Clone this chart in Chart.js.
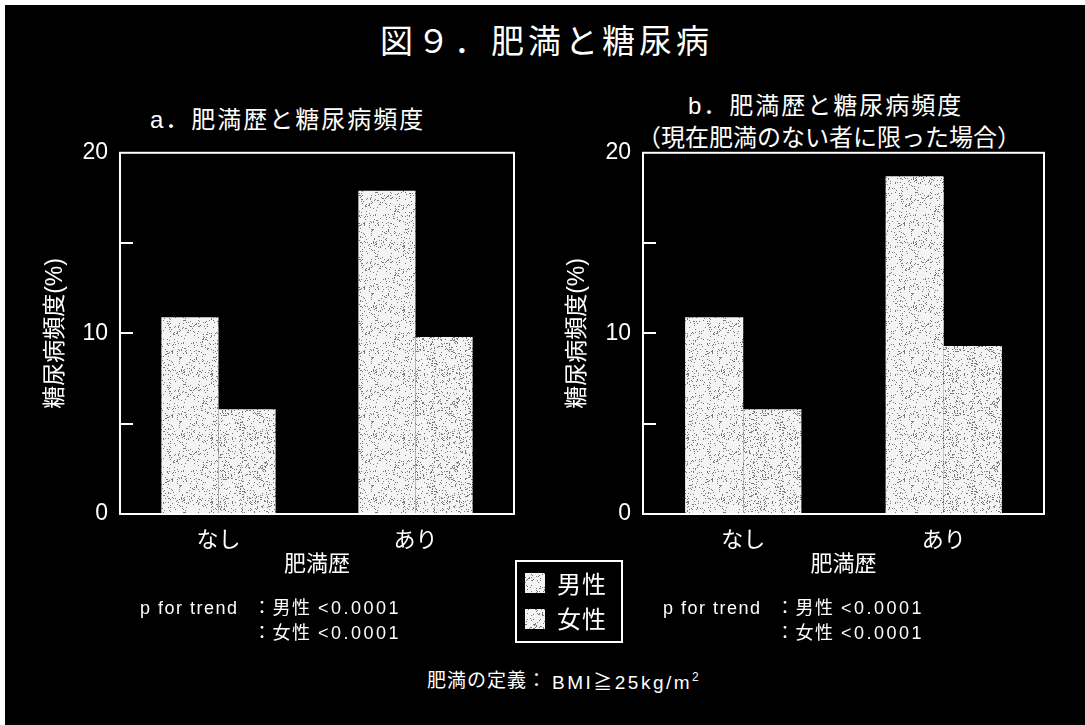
<!DOCTYPE html>
<html lang="ja">
<head>
<meta charset="utf-8">
<title>図9．肥満と糖尿病</title>
<script src="https://cdn.jsdelivr.net/npm/chart.js@4.4.0/dist/chart.umd.min.js"></script>
<style>
  html, body { margin: 0; padding: 0; background: #000; }
  #page { position: relative; width: 1085px; height: 725px; background: #000; overflow: hidden; }
  .edge { position: absolute; background: #fff; }
  canvas.chart { position: absolute; }
  .t { position: absolute; white-space: nowrap; color: #fff; line-height: 1;
       font-family: 'Liberation Sans', 'Noto Sans CJK JP', sans-serif; }
  .num { letter-spacing: 2.5px; }
  #legend { position: absolute; left: 515px; top: 560px; width: 104px; height: 79px;
            border: 2px solid #fff; }
  #legend canvas { position: absolute; left: 8px; width: 20px; height: 20px; }
</style>
</head>
<body>
<div id="page">
  <div class="edge" style="left:0;top:0;width:1085px;height:5px"></div>
  <div class="edge" style="left:0;top:0;width:5px;height:725px"></div>

  <div class="t" style="left:380px;top:25px;font-size:33px;letter-spacing:4px">図９．肥満と糖尿病</div>

  <div class="t" style="left:150px;top:108px;font-size:24px;letter-spacing:2px">a．肥満歴と糖尿病頻度</div>
  <div class="t" style="left:688px;top:94px;font-size:24px;letter-spacing:2px">b．肥満歴と糖尿病頻度</div>
  <div class="t" style="left:637px;top:126px;font-size:24px">（現在肥満のない者に限った場合）</div>

  <canvas id="chartA" class="chart" width="540" height="473" style="left:0;top:127px"></canvas>
  <canvas id="chartB" class="chart" width="545" height="473" style="left:540px;top:127px"></canvas>

  <div class="t" style="left:140px;top:599px;font-size:18px;letter-spacing:1.5px">p for trend</div>
  <div class="t" style="left:253px;top:599px;font-size:18px;letter-spacing:1.5px">：男性 <span class="num">&lt;0.0001</span></div>
  <div class="t" style="left:253px;top:624px;font-size:18px;letter-spacing:1.5px">：女性 <span class="num">&lt;0.0001</span></div>

  <div class="t" style="left:663px;top:599px;font-size:18px;letter-spacing:1.5px">p for trend</div>
  <div class="t" style="left:776px;top:599px;font-size:18px;letter-spacing:1.5px">：男性 <span class="num">&lt;0.0001</span></div>
  <div class="t" style="left:776px;top:624px;font-size:18px;letter-spacing:1.5px">：女性 <span class="num">&lt;0.0001</span></div>

  <div id="legend">
    <canvas id="swMale" width="20" height="20" style="top:11px"></canvas>
    <div class="t" id="lgMale" style="left:40px;top:11px;font-size:24px;letter-spacing:1px"></div>
    <canvas id="swFemale" width="20" height="20" style="top:47px"></canvas>
    <div class="t" id="lgFemale" style="left:40px;top:46px;font-size:24px;letter-spacing:1px"></div>
  </div>

  <div class="t" style="left:427px;top:671px;font-size:19px;letter-spacing:1px">肥満の定義：</div>
  <div class="t" style="left:552px;top:671px;font-size:19px;letter-spacing:2.5px">BMI≧25kg/m<sup style="font-size:12px;vertical-align:8px;letter-spacing:0">2</sup></div>
</div>

<script>
// categories and series
const categories = ['なし', 'あり'];
const seriesNames = ['男性', '女性'];
const maleA = [10.9, 17.9];
const femaleA = [5.8, 9.8];
const maleB = [10.9, 18.7];
const femaleB = [5.8, 9.3];
// axis ticks: labelled values and the short inner marks
const labelledTicks = [0, 10, 20];
const innerTicks = [5, 10, 15];
const yTitle = '糖尿病頻度(%)';
const xTitle = '肥満歴';

const FONT = "'Liberation Sans', 'Noto Sans CJK JP', sans-serif";

// halftone-like stipple fill for the bars (deterministic hash, no Math.random)
function stipple(density, seed) {
  const size = 64;
  const c = document.createElement('canvas');
  c.width = c.height = size;
  const g = c.getContext('2d');
  g.fillStyle = '#f4f4f4';
  g.fillRect(0, 0, size, size);
  g.fillStyle = '#7a7a7a';
  for (let y = 0; y < size; y++) {
    for (let x = 0; x < size; x++) {
      let h = Math.imul(x + 1, 374761393) ^ Math.imul(y + 7, 668265263) ^ Math.imul(seed, 2246822519);
      h = Math.imul(h ^ (h >>> 13), 1274126177);
      h ^= h >>> 16;
      if (((h >>> 0) % 1000) / 1000 < density) g.fillRect(x, y, 1, 1);
    }
  }
  return g.createPattern(c, 'repeat');
}

const malePattern = stipple(0.10, 3);
const femalePattern = stipple(0.14, 11);

// white frame round the plot area plus short inward tick marks on the left
const framePlugin = {
  id: 'frame',
  afterDatasetsDraw(chart) {
    const { ctx, chartArea: a, scales: { y } } = chart;
    ctx.save();
    ctx.strokeStyle = '#fff';
    ctx.lineWidth = 2;
    ctx.strokeRect(a.left, a.top, a.right - a.left, a.bottom - a.top);
    ctx.beginPath();
    for (const v of innerTicks) {
      const py = Math.round(y.getPixelForValue(v));
      ctx.moveTo(a.left, py);
      ctx.lineTo(a.left + 13, py);
    }
    ctx.stroke();
    ctx.restore();
  }
};

function makeChart(id, male, female, yAxisWidth, yTitlePad, padRight) {
  return new Chart(document.getElementById(id), {
    type: 'bar',
    data: {
      labels: categories,
      datasets: [
        { label: seriesNames[0], data: male, backgroundColor: malePattern, borderWidth: 0 },
        { label: seriesNames[1], data: female, backgroundColor: femalePattern, borderWidth: 0 }
      ]
    },
    options: {
      responsive: false,
      animation: false,
      devicePixelRatio: 1,
      layout: { padding: { left: 0, top: 0, right: padRight, bottom: 16 } },
      datasets: { bar: { categoryPercentage: 0.58, barPercentage: 1.0 } },
      plugins: { legend: { display: false }, tooltip: { enabled: false } },
      scales: {
        x: {
          grid: { display: false, drawTicks: false },
          border: { display: false },
          ticks: { color: '#fff', padding: 14, font: { family: FONT, size: 22 } },
          title: { display: true, text: xTitle, color: '#fff', padding: { top: 0, bottom: 6 },
                   font: { family: FONT, size: 22 } },
          afterFit(scale) { scale.height = 70; }
        },
        y: {
          min: 0, max: 20,
          grid: { display: false, drawTicks: false },
          border: { display: false },
          ticks: {
            stepSize: 5, color: '#fff', padding: 12,
            font: { family: FONT, size: 23 },
            callback: v => labelledTicks.includes(v) ? String(v) : ''
          },
          title: { display: true, text: yTitle, color: '#fff', padding: { top: yTitlePad, bottom: 0 },
                   font: { family: FONT, size: 23 } },
          afterFit(scale) { scale.width = yAxisWidth; }
        }
      }
    },
    plugins: [framePlugin]
  });
}

makeChart('chartA', maleA, femaleA, 120, 42, 26);
makeChart('chartB', maleB, femaleB, 103, 24, 41);

// legend swatches and labels
function swatch(id, pattern) {
  const g = document.getElementById(id).getContext('2d');
  g.fillStyle = pattern;
  g.fillRect(0, 0, 20, 20);
}
swatch('swMale', malePattern);
swatch('swFemale', femalePattern);
document.getElementById('lgMale').textContent = seriesNames[0];
document.getElementById('lgFemale').textContent = seriesNames[1];
</script>
</body>
</html>
